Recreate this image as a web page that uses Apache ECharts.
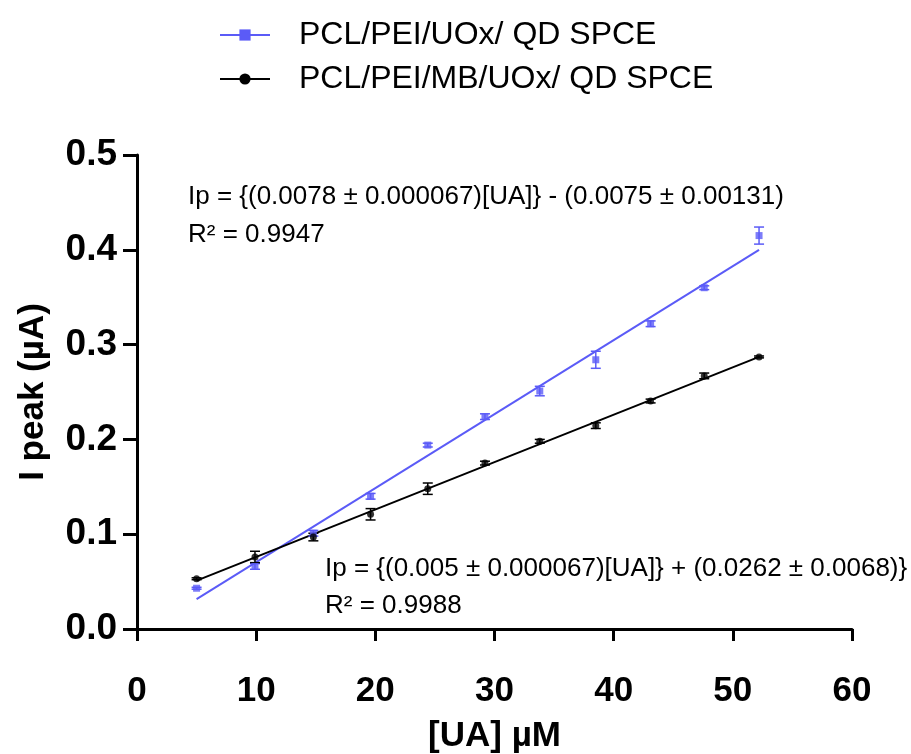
<!DOCTYPE html>
<html>
<head>
<meta charset="utf-8">
<script src="https://cdn.jsdelivr.net/npm/echarts@6/dist/echarts.min.js"></script>
<style>html,body{margin:0;padding:0;background:#fff}#c{width:911px;height:754px}</style>
</head>
<body>
<div id="c"></div>
<script>
// ---- data ----
const uaConc = [5, 9.9, 14.8, 19.6, 24.4, 29.2, 33.8, 38.5, 43.1, 47.6, 52.2];
const bluePeak = [0.043, 0.066, 0.101, 0.140, 0.194, 0.224, 0.251, 0.284, 0.322, 0.360, 0.415];
const blueErr  = [0.001, 0.003, 0.003, 0.003, 0.002, 0.003, 0.005, 0.009, 0.003, 0.002, 0.009];
const blackPeak = [0.053, 0.076, 0.097, 0.121, 0.148, 0.175, 0.198, 0.2145, 0.2405, 0.267, 0.287];
const blackErr  = [0.001, 0.006, 0.004, 0.006, 0.006, 0.002, 0.002, 0.003, 0.002, 0.003, 0.001];
const blueFit = [[5, 0.0315], [52.2, 0.400]];
const blackFit = [[5, 0.051], [52.2, 0.287]];
const seriesNames = ['PCL/PEI/UOx/ QD SPCE', 'PCL/PEI/MB/UOx/ QD SPCE'];
const xTicks = {min: 0, max: 60, interval: 10};
const yTicks = {min: 0, max: 0.5, interval: 0.1};
const eqBlue = 'Ip = {(0.0078 ± 0.000067)[UA]} - (0.0075 ± 0.00131)';
const r2Blue = 'R² = 0.9947';
const eqBlack = 'Ip = {(0.005 ± 0.000067)[UA]} + (0.0262 ± 0.0068)}';
const r2Black = 'R² = 0.9988';

const BLUE = '#5b5bf7';
const BLACK = '#000000';
const FONT = 'Arial, "Liberation Sans", sans-serif';

const pts = (ys) => uaConc.map((x, i) => [x, ys[i]]);
const errPts = (ys, es) => uaConc.map((x, i) => [x, ys[i], es[i]]);

function errRender(color) {
  return function (params, api) {
    const x = api.value(0), y = api.value(1), e = api.value(2);
    const lo = api.coord([x, y - e]);
    const hi = api.coord([x, y + e]);
    const w = 5;
    const st = {stroke: color, lineWidth: 1.5};
    return {
      type: 'group',
      children: [
        {type: 'line', shape: {x1: lo[0], y1: lo[1], x2: hi[0], y2: hi[1]}, style: st},
        {type: 'line', shape: {x1: lo[0] - w, y1: lo[1], x2: lo[0] + w, y2: lo[1]}, style: st},
        {type: 'line', shape: {x1: hi[0] - w, y1: hi[1], x2: hi[0] + w, y2: hi[1]}, style: st}
      ]
    };
  };
}

const chart = echarts.init(document.getElementById('c'));
chart.setOption({
  animation: false,
  backgroundColor: '#ffffff',
  textStyle: {fontFamily: FONT},
  legend: {
    data: seriesNames,
    orient: 'vertical',
    left: 214,
    top: 14,
    itemWidth: 50,
    itemHeight: 14,
    itemGap: 12,
    textStyle: {fontSize: 32, color: '#000', fontFamily: FONT, padding: [0, 0, 0, 24], lineHeight: 32}
  },
  grid: {left: 137, right: 59, top: 155, bottom: 125, containLabel: false, outerBoundsMode: 'none'},
  xAxis: {
    type: 'value',
    min: xTicks.min, max: xTicks.max, interval: xTicks.interval,
    name: '[UA] µM',
    nameLocation: 'middle',
    nameGap: 90,
    nameTextStyle: {fontSize: 35, fontWeight: 'bold', color: '#000', fontFamily: FONT},
    axisLine: {show: true, onZero: false, lineStyle: {color: '#000', width: 3}},
    axisTick: {show: true, length: 12, lineStyle: {color: '#000', width: 3}},
    axisLabel: {fontSize: 35, fontWeight: 'bold', color: '#000', margin: 45, fontFamily: FONT},
    splitLine: {show: false}
  },
  yAxis: {
    type: 'value',
    min: yTicks.min, max: yTicks.max, interval: yTicks.interval,
    name: 'I peak (µA)',
    nameLocation: 'middle',
    nameGap: 86,
    nameRotate: 90,
    nameTextStyle: {fontSize: 35, fontWeight: 'bold', color: '#000', fontFamily: FONT},
    axisLine: {show: true, onZero: false, lineStyle: {color: '#000', width: 3}},
    axisTick: {show: true, length: 14, lineStyle: {color: '#000', width: 3}},
    axisLabel: {fontSize: 37, fontWeight: 'bold', color: '#000', margin: 20, fontFamily: FONT,
      formatter: (v) => v.toFixed(1)},
    splitLine: {show: false}
  },
  series: [
    {
      name: seriesNames[0], type: 'line', data: blueFit,
      symbol: 'rect', symbolSize: 6, showSymbol: false,
      lineStyle: {color: BLUE, width: 2}, itemStyle: {color: BLUE}, z: 2
    },
    {
      name: seriesNames[1], type: 'line', data: blackFit,
      symbol: 'circle', symbolSize: 5, showSymbol: false,
      lineStyle: {color: BLACK, width: 2}, itemStyle: {color: BLACK}, z: 2
    },
    {
      name: 'blueErr', type: 'custom', data: errPts(bluePeak, blueErr),
      renderItem: errRender(BLUE), z: 3
    },
    {
      name: 'blackErr', type: 'custom', data: errPts(blackPeak, blackErr),
      renderItem: errRender(BLACK), z: 3
    },
    {
      name: 'bluePts', type: 'scatter', data: pts(bluePeak),
      symbol: 'rect', symbolSize: 7, itemStyle: {color: BLUE}, z: 4
    },
    {
      name: 'blackPts', type: 'scatter', data: pts(blackPeak),
      symbol: 'circle', symbolSize: 7, itemStyle: {color: BLACK}, z: 4
    }
  ],
  graphic: [
    {type: 'text', left: 188, top: 184, style: {text: eqBlue, fontSize: 26, fill: '#000', fontFamily: FONT}},
    {type: 'text', left: 188, top: 222, style: {text: r2Blue, fontSize: 26, fill: '#000', fontFamily: FONT}},
    {type: 'text', left: 325, top: 556, style: {text: eqBlack, fontSize: 26, fill: '#000', fontFamily: FONT}},
    {type: 'text', left: 325, top: 593, style: {text: r2Black, fontSize: 26, fill: '#000', fontFamily: FONT}}
  ]
});
</script>
</body>
</html>
